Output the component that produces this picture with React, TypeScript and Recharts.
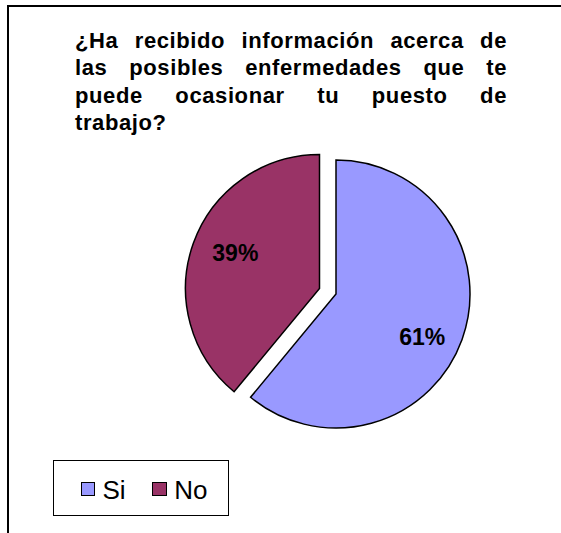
import React from 'react';
import { PieChart, Pie, Cell } from 'recharts';

const categories = ['Si', 'No'];
const values = [61, 39];
const colors = ['#9999FF', '#993366'];
const titleLines = [
  '¿Ha recibido información acerca de',
  'las posibles enfermedades que te',
  'puede ocasionar tu puesto de',
  'trabajo?',
];

const data = categories.map((name, i) => ({ name, value: values[i] }));
const total = values.reduce((a, b) => a + b, 0);
const RAD = Math.PI / 180;
const FONT = '"Liberation Sans", Arial, Helvetica, sans-serif';

function makeLabel(showIndex: number) {
  return (props: any) => {
    if (props.index !== showIndex) return <g />;
    const { cx, cy, midAngle, outerRadius, value } = props;
    const a = (midAngle - 5) * RAD;
    const r = outerRadius * 0.7;
    const x = cx + r * Math.cos(a);
    const y = cy - r * Math.sin(a);
    return (
      <text
        x={x + 1}
        y={y + 4}
        textAnchor="middle"
        dominantBaseline="central"
        fontFamily={FONT}
        fontWeight={700}
        fontSize={23}
        fill="#000"
      >
        {Math.round((value / total) * 100)}%
      </text>
    );
  };
}

function SlicePie({ show, cx, cy }: { show: number; cx: number; cy: number }) {
  return (
    <Pie
      data={data}
      dataKey="value"
      nameKey="name"
      cx={cx}
      cy={cy}
      outerRadius={134}
      startAngle={90}
      endAngle={-270}
      isAnimationActive={false}
      label={makeLabel(show)}
      labelLine={false}
    >
      {data.map((d, i) => (
        <Cell
          key={d.name}
          fill={i === show ? colors[i] : 'none'}
          stroke={i === show ? '#000' : 'none'}
          strokeWidth={1.5}
        />
      ))}
    </Pie>
  );
}

export default function App() {
  return (
    <div style={{ position: 'absolute', left: 0, top: 0, width: 561, height: 533, background: '#fff', overflow: 'hidden' }}>
      <div
        style={{
          position: 'absolute',
          left: 7,
          top: 5,
          width: 554,
          height: 528,
          borderTop: '2px solid #000',
          borderLeft: '2px solid #000',
          boxSizing: 'border-box',
        }}
      />
      <div
        style={{
          position: 'absolute',
          left: 75,
          top: 26.5,
          width: 432,
          fontFamily: FONT,
          fontWeight: 700,
          fontSize: 22,
          letterSpacing: 0.6,
          lineHeight: '27.6px',
          color: '#000',
        }}
      >
        {titleLines.map((t, i) => (
          <div
            key={i}
            style={{
              textAlign: i < titleLines.length - 1 ? 'justify' : 'left',
              textAlignLast: i < titleLines.length - 1 ? 'justify' : 'left',
              whiteSpace: 'nowrap',
            } as any}
          >
            {t}
          </div>
        ))}
      </div>
      <div style={{ position: 'absolute', left: 0, top: 0 }}>
        <PieChart width={561} height={533} margin={{ top: 0, right: 0, bottom: 0, left: 0 }}>
          <SlicePie show={0} cx={336} cy={294} />
          <SlicePie show={1} cx={319.5} cy={288.5} />
        </PieChart>
      </div>
      <div
        style={{
          position: 'absolute',
          left: 53,
          top: 460,
          width: 175.5,
          height: 56,
          border: '1.5px solid #000',
          boxSizing: 'border-box',
          display: 'flex',
          alignItems: 'center',
          paddingLeft: 26.5,
          paddingTop: 4,
          fontFamily: FONT,
          fontSize: 26,
          lineHeight: '30px',
          color: '#000',
        }}
      >
        {categories.map((c, i) => (
          <div key={c} style={{ display: 'flex', alignItems: 'center', marginRight: i === 0 ? 26.5 : 0 }}>
            <div
              style={{
                width: 14.5,
                height: 14.5,
                background: colors[i],
                border: '1.5px solid #000',
                boxSizing: 'border-box',
                marginRight: 7.5,
                marginTop: -2,
              }}
            />
            <span>{c}</span>
          </div>
        ))}
      </div>
    </div>
  );
}
